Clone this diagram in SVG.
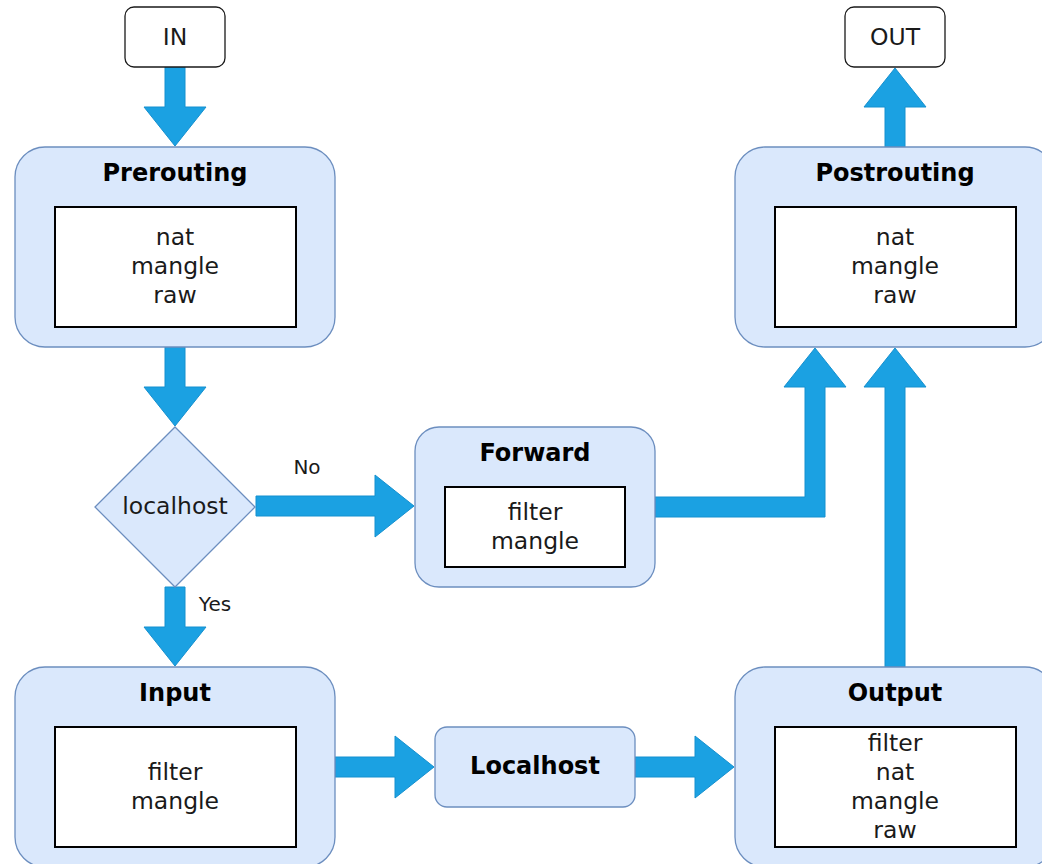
<svg xmlns="http://www.w3.org/2000/svg" width="1042" height="864" viewBox="0 0 1042 864">
<style>
.node{fill:#dae8fc;stroke:#6c8ebf;stroke-width:1.3}
.term{fill:#ffffff;stroke:#1a1a1a;stroke-width:1.3}
.inner{fill:#ffffff;stroke:#000000;stroke-width:2}
.arrow{fill:#1ba1e2;stroke:#1590cf;stroke-width:1}
text{font-family:"DejaVu Sans","Liberation Sans",sans-serif;fill:#1a1a1a;text-anchor:middle;dominant-baseline:central}
.t{font-size:23.5px}
.b{font-size:24px;font-weight:bold;fill:#000}
.lbl{font-size:20px}
</style>
<rect width="1042" height="864" fill="#ffffff"/>
<g id="connectors">
<polygon class="arrow" points="165,67 185,67 185,107 206,107 175,146 144,107 165,107"/>
<polygon class="arrow" points="165,347 185,347 185,387 206,387 175,426 144,387 165,387"/>
<polygon class="arrow" points="165,587 185,587 185,627 206,627 175,666 144,627 165,627"/>
<polygon class="arrow" points="256,496 375,496 375,475 414,506 375,537 375,516 256,516"/>
<polygon class="arrow" points="655,497 805,497 805,387 784,387 815,348 846,387 825,387 825,517 655,517"/>
<polygon class="arrow" points="885,667 885,387 864,387 895,348 926,387 905,387 905,667"/>
<polygon class="arrow" points="885,147 885,107 864,107 895,68 926,107 905,107 905,147"/>
<polygon class="arrow" points="335,757 395,757 395,736 434,767 395,798 395,777 335,777"/>
<polygon class="arrow" points="635,757 695,757 695,736 734,767 695,798 695,777 635,777"/>
<text class="lbl" x="307" y="467">No</text>
<text class="lbl" x="215" y="604">Yes</text>
</g>
<g id="in">
<rect class="term" x="125" y="7" width="100" height="60" rx="9"/>
<text class="t" x="175" y="37">IN</text>
</g>
<g id="out">
<rect class="term" x="845" y="7" width="100" height="60" rx="9"/>
<text class="t" x="895" y="37">OUT</text>
</g>
<g id="prerouting">
<rect class="node" x="15" y="147" width="320" height="200" rx="30"/>
<text class="b" x="175" y="173">Prerouting</text>
<rect class="inner" x="55" y="207" width="241" height="120"/>
<text class="t" x="175" y="237">nat</text>
<text class="t" x="175" y="266">mangle</text>
<text class="t" x="175" y="295">raw</text>
</g>
<g id="postrouting">
<rect class="node" x="735" y="147" width="320" height="200" rx="30"/>
<text class="b" x="895" y="173">Postrouting</text>
<rect class="inner" x="775" y="207" width="241" height="120"/>
<text class="t" x="895" y="237">nat</text>
<text class="t" x="895" y="266">mangle</text>
<text class="t" x="895" y="295">raw</text>
</g>
<g id="decision">
<polygon class="node" points="175,427 255,507 175,587 95,507"/>
<text class="t" x="175" y="506">localhost</text>
</g>
<g id="forward">
<rect class="node" x="415" y="427" width="240" height="160" rx="24"/>
<text class="b" x="535" y="453">Forward</text>
<rect class="inner" x="445" y="487" width="180" height="80"/>
<text class="t" x="535" y="512">filter</text>
<text class="t" x="535" y="541">mangle</text>
</g>
<g id="input">
<rect class="node" x="15" y="667" width="320" height="200" rx="30"/>
<text class="b" x="175" y="693">Input</text>
<rect class="inner" x="55" y="727" width="241" height="120"/>
<text class="t" x="175" y="772">filter</text>
<text class="t" x="175" y="801">mangle</text>
</g>
<g id="localhost">
<rect class="node" x="435" y="727" width="200" height="80" rx="12"/>
<text class="b" x="535" y="766">Localhost</text>
</g>
<g id="output">
<rect class="node" x="735" y="667" width="320" height="200" rx="30"/>
<text class="b" x="895" y="693">Output</text>
<rect class="inner" x="775" y="727" width="241" height="120"/>
<text class="t" x="895" y="743">filter</text>
<text class="t" x="895" y="772">nat</text>
<text class="t" x="895" y="801">mangle</text>
<text class="t" x="895" y="830">raw</text>
</g>
</svg>
